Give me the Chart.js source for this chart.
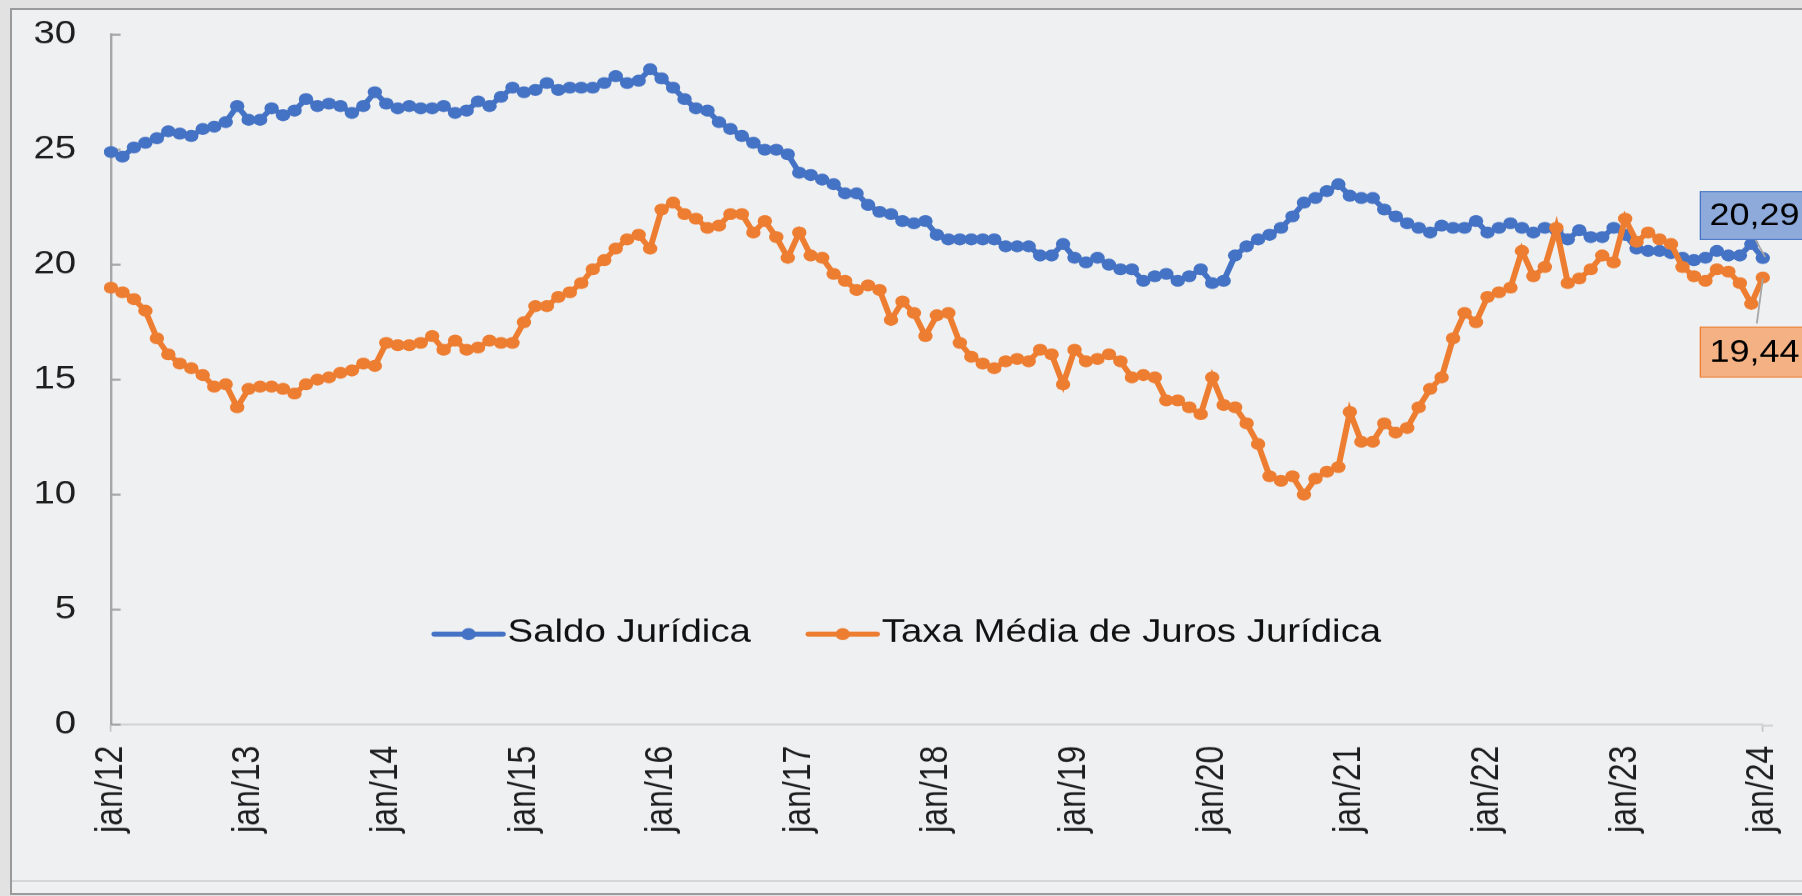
<!DOCTYPE html>
<html lang="pt-BR">
<head>
<meta charset="utf-8">
<title>Saldo e Taxa Média de Juros - Pessoa Jurídica</title>
<script src="https://cdn.jsdelivr.net/npm/chart.js@4/dist/chart.umd.min.js"></script>
<style>
  html, body { margin: 0; padding: 0; }
  body {
    width: 1802px; height: 896px; overflow: hidden; position: relative;
    background: #e2e2e2;
  }
  #moldura {
    position: absolute; left: 10px; top: 8px; width: 1800px; height: 887px;
    box-sizing: border-box; border: 2px solid #9b9b9b; border-right: none;
    background: #eff0f1;
  }
  #moldura::after {
    content: ''; position: absolute; left: 0; right: 0; top: 870px; height: 2px;
    background: #d6d6d6;
  }
  #grafico { position: absolute; left: 0; top: 0; }
</style>
</head>
<body>
<div id="moldura"></div>
<!-- a imagem original está esticada ~1.2x na horizontal: canvas lógico de 1502px exibido em 1802px -->
<canvas id="grafico" width="1502" height="896" style="width:1802px;height:896px"></canvas>
<script>
// Saldo x taxa média de juros, pessoa jurídica (% a.a.), mensal jan/12 a jan/24.
const FONTE = '"Liberation Sans", Arial, sans-serif';
const azul    = '#4472C4';
const laranja = '#ED7D31';

const meses = ['jan', 'fev', 'mar', 'abr', 'mai', 'jun', 'jul', 'ago', 'set', 'out', 'nov', 'dez'];
const anos  = ['12', '13', '14', '15', '16', '17', '18', '19', '20', '21', '22', '23'];

const rotulos = [];
anos.forEach(a => meses.forEach(m => rotulos.push(`${m}/${a}`)));
rotulos.push('jan/24');

const saldoJuridica = [
  24.9, 24.7, 25.1, 25.3, 25.5, 25.8, 25.7, 25.6, 25.9, 26.0, 26.2, 26.9,
  26.3, 26.3, 26.8, 26.5, 26.7, 27.2, 26.9, 27.0, 26.9, 26.6, 26.9, 27.5,
  27.0, 26.8, 26.9, 26.8, 26.8, 26.9, 26.6, 26.7, 27.1, 26.9, 27.3, 27.7,
  27.5, 27.6, 27.9, 27.6, 27.7, 27.7, 27.7, 27.9, 28.2, 27.9, 28.0, 28.5,
  28.1, 27.7, 27.2, 26.8, 26.7, 26.2, 25.9, 25.6, 25.3, 25.0, 25.0, 24.8,
  24.0, 23.9, 23.7, 23.5, 23.1, 23.1, 22.6, 22.3, 22.2, 21.9, 21.8, 21.9,
  21.3, 21.1, 21.1, 21.1, 21.1, 21.1, 20.8, 20.8, 20.8, 20.4, 20.4, 20.9,
  20.3, 20.1, 20.3, 20.0, 19.8, 19.8, 19.3, 19.5, 19.6, 19.3, 19.5, 19.8,
  19.2, 19.3, 20.4, 20.8, 21.1, 21.3, 21.6, 22.1, 22.7, 22.9, 23.2, 23.5,
  23.0, 22.9, 22.9, 22.4, 22.1, 21.8, 21.6, 21.4, 21.7, 21.6, 21.6, 21.9,
  21.4, 21.6, 21.8, 21.6, 21.4, 21.6, 21.5, 21.1, 21.5, 21.2, 21.2, 21.6,
  21.3, 20.7, 20.6, 20.6, 20.5, 20.3, 20.2, 20.3, 20.6, 20.4, 20.4, 20.9,
  20.29,
];

const taxaMediaJuridica = [
  19.0, 18.8, 18.5, 18.0, 16.8, 16.1, 15.7, 15.5, 15.2, 14.7, 14.8, 13.8,
  14.6, 14.7, 14.7, 14.6, 14.4, 14.8, 15.0, 15.1, 15.3, 15.4, 15.7, 15.6,
  16.6, 16.5, 16.5, 16.6, 16.9, 16.3, 16.7, 16.3, 16.4, 16.7, 16.6, 16.6,
  17.5, 18.2, 18.2, 18.6, 18.8, 19.2, 19.8, 20.2, 20.7, 21.1, 21.3, 20.7,
  22.4, 22.7, 22.2, 22.0, 21.6, 21.7, 22.2, 22.2, 21.4, 21.9, 21.2, 20.3,
  21.4, 20.4, 20.3, 19.6, 19.3, 18.9, 19.1, 18.9, 17.6, 18.4, 17.9, 16.9,
  17.8, 17.9, 16.6, 16.0, 15.7, 15.5, 15.8, 15.9, 15.8, 16.3, 16.1, 14.8,
  16.3, 15.8, 15.9, 16.1, 15.8, 15.1, 15.2, 15.1, 14.1, 14.1, 13.8, 13.5,
  15.1, 13.9, 13.8, 13.1, 12.2, 10.8, 10.6, 10.8, 10.0, 10.7, 11.0, 11.2,
  13.6, 12.3, 12.3, 13.1, 12.7, 12.9, 13.8, 14.6, 15.1, 16.8, 17.9, 17.5,
  18.6, 18.8, 19.0, 20.6, 19.5, 19.9, 21.6, 19.2, 19.4, 19.8, 20.4, 20.1,
  22.0, 21.0, 21.4, 21.1, 20.9, 19.9, 19.5, 19.3, 19.8, 19.7, 19.2, 18.3,
  19.44,
];

const ticksY = [0, 5, 10, 15, 20, 25, 30];

// marquinhas do eixo Y voltadas para dentro (estilo Excel) + sobra do eixo X à direita
const marcasY = {
  id: 'marcasY',
  beforeDatasetsDraw(chart) {
    const { ctx, chartArea, scales: { y } } = chart;
    ctx.save();
    ctx.strokeStyle = '#a3a3a3';
    ctx.lineWidth = 2;
    y.ticks.forEach(t => {
      const py = y.getPixelForValue(t.value);
      ctx.beginPath();
      ctx.moveTo(chartArea.left, py);
      ctx.lineTo(chartArea.left + 8, py);
      ctx.stroke();
    });
    ctx.strokeStyle = '#d3d3d3';
    ctx.beginPath();
    ctx.moveTo(chartArea.right, chartArea.bottom + 1);
    ctx.lineTo(chartArea.right + 8.5, chartArea.bottom + 1);
    ctx.stroke();
    ctx.restore();
  },
};

// legenda desenhada dentro da área do gráfico
const legendaInterna = {
  id: 'legendaInterna',
  afterDatasetsDraw(chart) {
    const { ctx } = chart;
    const yMeio = 633;
    let x = 362;
    ctx.save();
    ctx.font = `32px ${FONTE}`;
    ctx.textBaseline = 'middle';
    chart.data.datasets.forEach(ds => {
      ctx.strokeStyle = ds.borderColor;
      ctx.lineWidth = 5;
      ctx.lineCap = 'round';
      ctx.beginPath();
      ctx.moveTo(x, yMeio + 1);
      ctx.lineTo(x + 57, yMeio + 1);
      ctx.stroke();
      ctx.fillStyle = ds.backgroundColor;
      ctx.beginPath();
      ctx.arc(x + 28.5, yMeio + 1, 6, 0, Math.PI * 2);
      ctx.fill();
      ctx.fillStyle = '#111111';
      ctx.fillText(ds.label, x + 61, yMeio);
      x += 61 + ctx.measureText(ds.label).width + 48;
    });
    ctx.restore();
  },
};

// caixas com o último valor de cada série
const ultimoValor = {
  id: 'ultimoValor',
  afterDatasetsDraw(chart) {
    const { ctx } = chart;
    const caixas = [
      { ds: 0, dy: -67, h: 49, fundo: '#8EAADB', borda: azul, de: [-6, -18], ate: [2, -1] },
      { ds: 1, dy: 49, h: 51, fundo: '#F4B183', borda: laranja, de: [-5, 46], ate: [0, 1] },
    ];
    ctx.save();
    caixas.forEach(c => {
      const meta = chart.getDatasetMeta(c.ds);
      const ponto = meta.data[meta.data.length - 1];
      const valor = chart.data.datasets[c.ds].data[meta.data.length - 1];
      const x0 = ponto.x - 52.5;
      const y0 = ponto.y + c.dy;

      ctx.strokeStyle = '#a6a6a6';
      ctx.lineWidth = 1.5;
      ctx.beginPath();
      ctx.moveTo(ponto.x + c.de[0], ponto.y + c.de[1]);
      ctx.lineTo(ponto.x + c.ate[0], ponto.y + c.ate[1]);
      ctx.stroke();

      ctx.fillStyle = c.fundo;
      ctx.fillRect(x0, y0, 120, c.h);
      ctx.strokeStyle = c.borda;
      ctx.lineWidth = 1;
      ctx.strokeRect(x0 + 0.5, y0 + 0.5, 120, c.h - 1);

      ctx.fillStyle = '#000000';
      ctx.font = `30px ${FONTE}`;
      ctx.textBaseline = 'middle';
      ctx.textAlign = 'left';
      ctx.fillText(valor.toFixed(2).replace('.', ','), x0 + 8, y0 + c.h / 2 + 1);
    });
    ctx.restore();
  },
};

new Chart(document.getElementById('grafico'), {
  type: 'line',
  data: {
    labels: rotulos,
    datasets: [
      {
        label: 'Saldo Jurídica',
        data: saldoJuridica,
        borderColor: azul,
        backgroundColor: azul,
        borderWidth: 5,
        pointRadius: 6,
        pointBorderWidth: 0,
        tension: 0,
        order: 1,
      },
      {
        label: 'Taxa Média de Juros Jurídica',
        data: taxaMediaJuridica,
        borderColor: laranja,
        backgroundColor: laranja,
        borderWidth: 5,
        pointRadius: 6,
        pointBorderWidth: 0,
        tension: 0,
        order: 0,
      },
    ],
  },
  options: {
    responsive: false,
    devicePixelRatio: 1.2,
    animation: false,
    layout: { padding: { left: 0, top: 34.7, right: 33, bottom: 0 } },
    plugins: {
      legend: { display: false },
      tooltip: { enabled: false },
    },
    scales: {
      x: {
        offset: false,
        grid: {
          drawOnChartArea: false,
          drawTicks: true,
          tickLength: 7,
          tickWidth: 1.5,
          tickColor: (c) => (c.index % 12 === 0 ? '#c6c6c6' : 'rgba(0,0,0,0)'),
        },
        border: { display: true, color: '#d3d3d3', width: 2 },
        ticks: {
          autoSkip: false,
          minRotation: 90,
          maxRotation: 90,
          padding: 14,
          color: '#1e1e1e',
          font: { family: FONTE, size: 32 },
          callback(v, i) { return i % 12 === 0 ? this.getLabelForValue(v) : null; },
        },
        afterFit(scale) {
          scale.height = 896 - 724.5;
          scale.paddingLeft = 0;
          scale.paddingRight = 0;
        },
      },
      y: {
        min: ticksY[0],
        max: ticksY[ticksY.length - 1],
        grid: { display: false, drawTicks: false },
        border: { display: true, color: '#a6a6a6', width: 2 },
        ticks: {
          stepSize: 5,
          padding: 29,
          color: '#1e1e1e',
          font: { family: FONTE, size: 32 },
        },
        afterFit(scale) {
          scale.width = 92.5;
          scale.paddingTop = 0;
          scale.paddingBottom = 0;
        },
      },
    },
  },
  plugins: [marcasY, legendaInterna, ultimoValor],
});
</script>
</body>
</html>
